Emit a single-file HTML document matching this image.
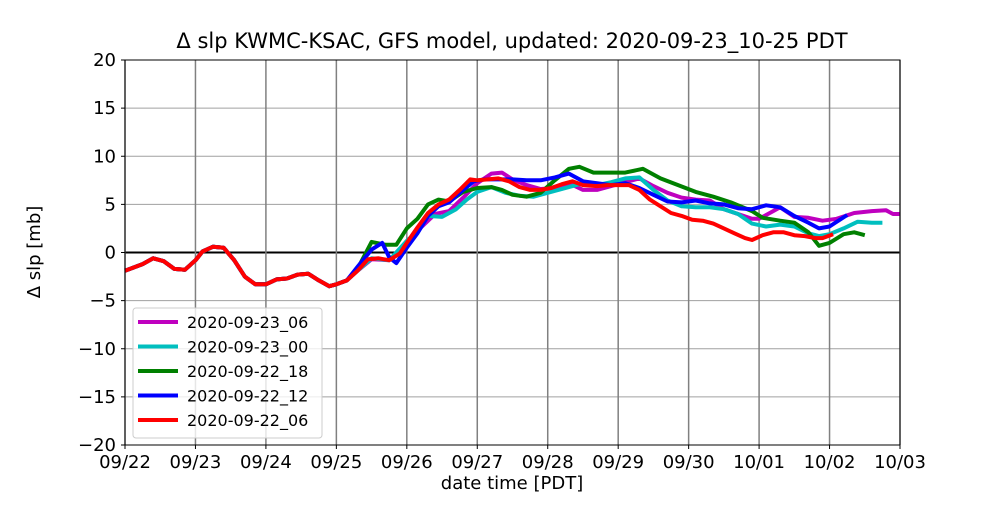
<!DOCTYPE html>
<html><head><meta charset="utf-8"><style>
body{margin:0;background:#fff;font-family:"Liberation Sans","DejaVu Sans",sans-serif}
</style></head><body>
<svg id="chart" width="1000" height="500" xmlns="http://www.w3.org/2000/svg" font-family="DejaVu Sans, Liberation Sans, sans-serif">
<rect width="1000" height="500" fill="#fff"/>
<text x="512" y="48" font-size="21" text-anchor="middle">Δ slp KWMC-KSAC, GFS model, updated: 2020-09-23_10-25 PDT</text>
<g id="grid"></g><g id="series"></g><g id="axes"></g>
<text x="512" y="489" font-size="18" text-anchor="middle">date time [PDT]</text>
<text transform="translate(40,252) rotate(-90)" font-size="18" text-anchor="middle">Δ slp [mb]</text>
<g id="legend"></g>
</svg>
<script>
const xTicks=["09/22","09/23","09/24","09/25","09/26","09/27","09/28","09/29","09/30","10/01","10/02","10/03"];
const yTicks=[-20,-15,-10,-5,0,5,10,15,20];
const seriesNames=["2020-09-23_06","2020-09-23_00","2020-09-22_18","2020-09-22_12","2020-09-22_06"];
const seriesColors=["#bf00bf","#00bfbf","#008000","#0000ff","#ff0000"];
const early=[[0,-1.9],[0.25,-1.2],[0.4,-0.6],[0.55,-0.9],[0.7,-1.7],[0.85,-1.8],[1.0,-0.8],[1.1,0.1],[1.25,0.6],[1.4,0.5],[1.55,-0.8],[1.7,-2.5],[1.85,-3.3],[2.0,-3.3],[2.15,-2.8],[2.3,-2.7],[2.45,-2.3],[2.6,-2.2],[2.75,-2.9],[2.9,-3.5],[3.0,-3.3],[3.15,-2.9]];
const magenta=[[3.3,-1.9],[3.5,-0.7],[3.75,-0.8],[4.0,0.8],[4.2,2.6],[4.4,4.0],[4.6,4.3],[4.8,5.7],[5.0,7.2],[5.2,8.2],[5.35,8.3],[5.5,7.6],[5.7,7.0],[5.9,6.6],[6.1,6.7],[6.3,7.2],[6.5,6.5],[6.7,6.5],[6.9,6.9],[7.1,7.3],[7.3,7.7],[7.5,6.9],[7.7,6.2],[7.9,5.7],[8.1,5.5],[8.3,5.4],[8.5,4.5],[8.7,4.0],[8.9,3.5],[9.0,3.5],[9.2,4.3],[9.3,4.7],[9.5,3.7],[9.7,3.6],[9.9,3.3],[10.1,3.5],[10.35,4.1],[10.6,4.3],[10.8,4.4],[10.9,4.0],[11.0,4.0]];
const cyan=[[3.3,-1.9],[3.5,-0.6],[3.75,-0.8],[4.0,1.2],[4.15,2.2],[4.3,3.8],[4.5,3.7],[4.7,4.5],[4.85,5.5],[5.0,6.3],[5.2,6.8],[5.4,6.2],[5.6,5.9],[5.8,5.8],[6.0,6.2],[6.3,6.8],[6.5,7.2],[6.7,7.0],[6.9,7.3],[7.1,7.7],[7.3,7.8],[7.5,6.5],[7.7,5.4],[7.9,4.8],[8.1,4.7],[8.3,4.7],[8.5,4.5],[8.7,4.0],[8.9,3.0],[9.1,2.7],[9.3,2.9],[9.5,2.7],[9.7,2.0],[9.85,1.7],[10.0,1.9],[10.2,2.5],[10.4,3.2],[10.6,3.1],[10.75,3.1]];
const green=[[3.3,-1.7],[3.5,1.1],[3.7,0.8],[3.85,0.8],[4.0,2.5],[4.15,3.5],[4.3,5.0],[4.45,5.5],[4.6,5.3],[4.8,6.3],[5.0,6.7],[5.2,6.8],[5.35,6.5],[5.5,6.0],[5.7,5.8],[5.9,6.2],[6.1,7.5],[6.3,8.7],[6.45,8.9],[6.65,8.3],[6.9,8.3],[7.1,8.3],[7.35,8.7],[7.6,7.7],[7.85,7.0],[8.1,6.3],[8.35,5.8],[8.6,5.2],[8.9,4.3],[9.05,3.6],[9.3,3.3],[9.5,3.1],[9.7,2.1],[9.85,0.7],[10.0,1.0],[10.2,1.9],[10.35,2.1],[10.5,1.8]];
const blue=[[3.3,-1.5],[3.5,0.3],[3.65,1.0],[3.75,-0.5],[3.85,-1.1],[4.0,0.5],[4.15,2.0],[4.3,3.8],[4.45,4.8],[4.6,5.2],[4.8,6.5],[4.95,7.4],[5.1,7.6],[5.3,7.6],[5.5,7.6],[5.7,7.5],[5.9,7.5],[6.1,7.8],[6.3,8.2],[6.5,7.4],[6.7,7.2],[6.9,7.0],[7.1,7.2],[7.3,6.7],[7.5,6.0],[7.7,5.3],[7.9,5.2],[8.1,5.4],[8.3,5.1],[8.5,5.0],[8.7,4.6],[8.9,4.5],[9.1,4.9],[9.3,4.7],[9.5,3.8],[9.7,3.1],[9.85,2.5],[10.0,2.7],[10.25,3.9]];
const red=[[3.3,-1.9],[3.45,-0.7],[3.6,-0.6],[3.75,-0.8],[3.9,-0.1],[4.0,1.0],[4.15,2.6],[4.3,4.1],[4.45,5.0],[4.6,5.5],[4.75,6.5],[4.9,7.6],[5.0,7.5],[5.15,7.6],[5.3,7.7],[5.45,7.4],[5.6,6.8],[5.75,6.5],[5.9,6.5],[6.05,6.7],[6.2,7.1],[6.35,7.4],[6.5,7.0],[6.7,6.9],[6.85,7.0],[7.0,7.0],[7.15,7.0],[7.3,6.5],[7.45,5.5],[7.6,4.8],[7.75,4.1],[7.9,3.8],[8.05,3.4],[8.2,3.3],[8.35,3.0],[8.5,2.5],[8.65,2.0],[8.8,1.5],[8.9,1.3],[9.05,1.8],[9.2,2.1],[9.35,2.1],[9.5,1.8],[9.65,1.7],[9.8,1.5],[9.9,1.5],[10.05,1.9]];
const seriesData=[magenta,cyan,green,blue,red];
</script>
<script>
const NS="http://www.w3.org/2000/svg";
const L=125,R=900,T=60,B=445;
const xs=d=>L+(R-L)*d/11;
const ys=v=>B-(B-T)*(v+20)/40;
function mk(tag,attrs,parent){const e=document.createElementNS(NS,tag);for(const k in attrs)e.setAttribute(k,attrs[k]);parent.appendChild(e);return e;}
const grid=document.getElementById('grid'),axes=document.getElementById('axes'),sg=document.getElementById('series'),lg=document.getElementById('legend');
yTicks.forEach(v=>{
  const l=mk('line',{x1:L,x2:R,y1:ys(v),y2:ys(v),stroke:v===0?'#000':'#a0a0a0','stroke-width':v===0?2:1},grid);
  
  
  const t=mk('text',{x:L-9,y:ys(v)+6,'font-size':18,'text-anchor':'end'},axes);t.textContent=v===0?'0':(v<0?'−'+(-v):v);
  
  
  mk('line',{x1:L-4,x2:L,y1:ys(v),y2:ys(v),stroke:'#000'},axes);
});
xTicks.forEach((s,i)=>{
  const l=mk('line',{x1:xs(i),x2:xs(i),y1:T,y2:B,stroke:'#808080','stroke-width':1.5},grid);
  
  
  mk('line',{x1:xs(i),x2:xs(i),y1:B,y2:B+4,stroke:'#000'},axes);
  const t=mk('text',{x:xs(i),y:B+23,'font-size':18,'text-anchor':'middle'},axes);t.textContent=s;
  
  
});
const fr=mk('rect',{x:L,y:T,width:R-L,height:B-T,fill:'none',stroke:'#000','stroke-width':1},axes);


seriesData.forEach((d,i)=>{
  const pts=early.concat(d).map(p=>xs(p[0]).toFixed(1)+','+ys(p[1]).toFixed(1)).join(' ');
  const p=mk('polyline',{points:pts,fill:'none',stroke:seriesColors[i],'stroke-width':4,'stroke-linejoin':'round'},sg);
  
  
});
const box=mk('rect',{x:133,y:308,width:189,height:130,rx:3,fill:'#fff','fill-opacity':0.8,stroke:'#ccc'},lg);


seriesNames.forEach((n,i)=>{
  const y=322+i*24.5;
  const l=mk('line',{x1:138,x2:178,y1:y,y2:y,stroke:seriesColors[i],'stroke-width':4},lg);
  
  
  const t=mk('text',{x:187,y:y+6,'font-size':16},lg);t.textContent=n;
  
  
});
</script>
</body></html>
